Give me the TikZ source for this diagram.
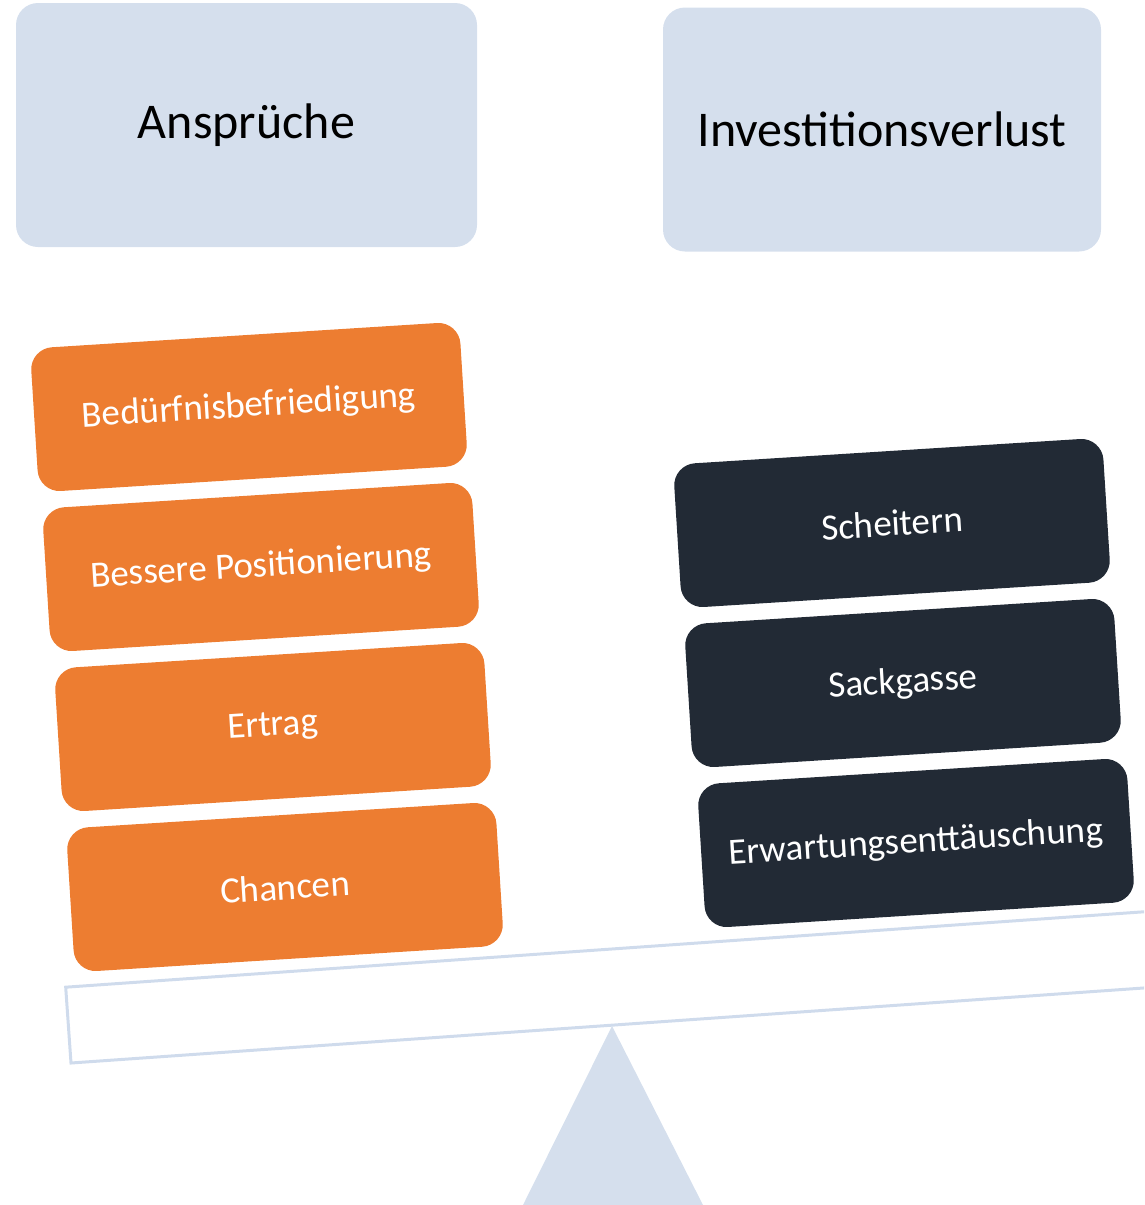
\documentclass[tikz,border=0pt]{standalone}
\usepackage{fontspec}
\setmainfont{Carlito}
\definecolor{paleblue}{HTML}{D5DFED}
\definecolor{beamline}{HTML}{CFDBEC}
\definecolor{accent}{HTML}{ED7D31}
\definecolor{darkslate}{HTML}{222A35}
\tikzset{header/.style={rectangle,rounded corners=22pt,fill=paleblue,minimum width=461pt,minimum height=244pt,font=\fontsize{50}{60}\selectfont}}
\tikzset{gain/.style={rectangle,rounded corners=22pt,fill=accent,text=white,minimum width=430pt,minimum height=144pt,rotate=3.6,font=\fontsize{37}{44}\selectfont}}
\tikzset{loss/.style={gain,fill=darkslate}}
\tikzset{beam/.style={draw=beamline,line width=3pt}}

\begin{document}
\begin{tikzpicture}[x=1pt,y=-1pt]
    \useasboundingbox (0,0) rectangle (1144,1205);
    \clip (0,0) rectangle (1144,1205);
    % seesaw
    \draw[beam,rotate around={4:(71,1063)}] (71,1063) rectangle ++(1200,-76);
    \coordinate (tip) at (612,1026);
    \fill[paleblue] (tip) -- (703,1205) -- (523,1205) -- cycle;
    % the two sides
    \node[header] (anspr) at (246.5,125) {Ansprüche};
    \node[header,minimum width=438pt] (invest) at (882,129.5) {Investitionsverlust};
    \node[gain] (beduerf) at (249,407) {Bedürfnisbefriedigung};
    \node[gain] (posit) at (261,567) {Bessere Positionierung};
    \node[gain] (ertrag) at (273,727) {Ertrag};
    \node[gain] (chancen) at (285,887) {Chancen};
    \node[loss] (scheit) at (892,523) {Scheitern};
    \node[loss] (sackg) at (903,683) {Sackgasse};
    \node[loss] (erwart) at (916,843) {Erwartungsenttäuschung};
\end{tikzpicture}
\end{document}
